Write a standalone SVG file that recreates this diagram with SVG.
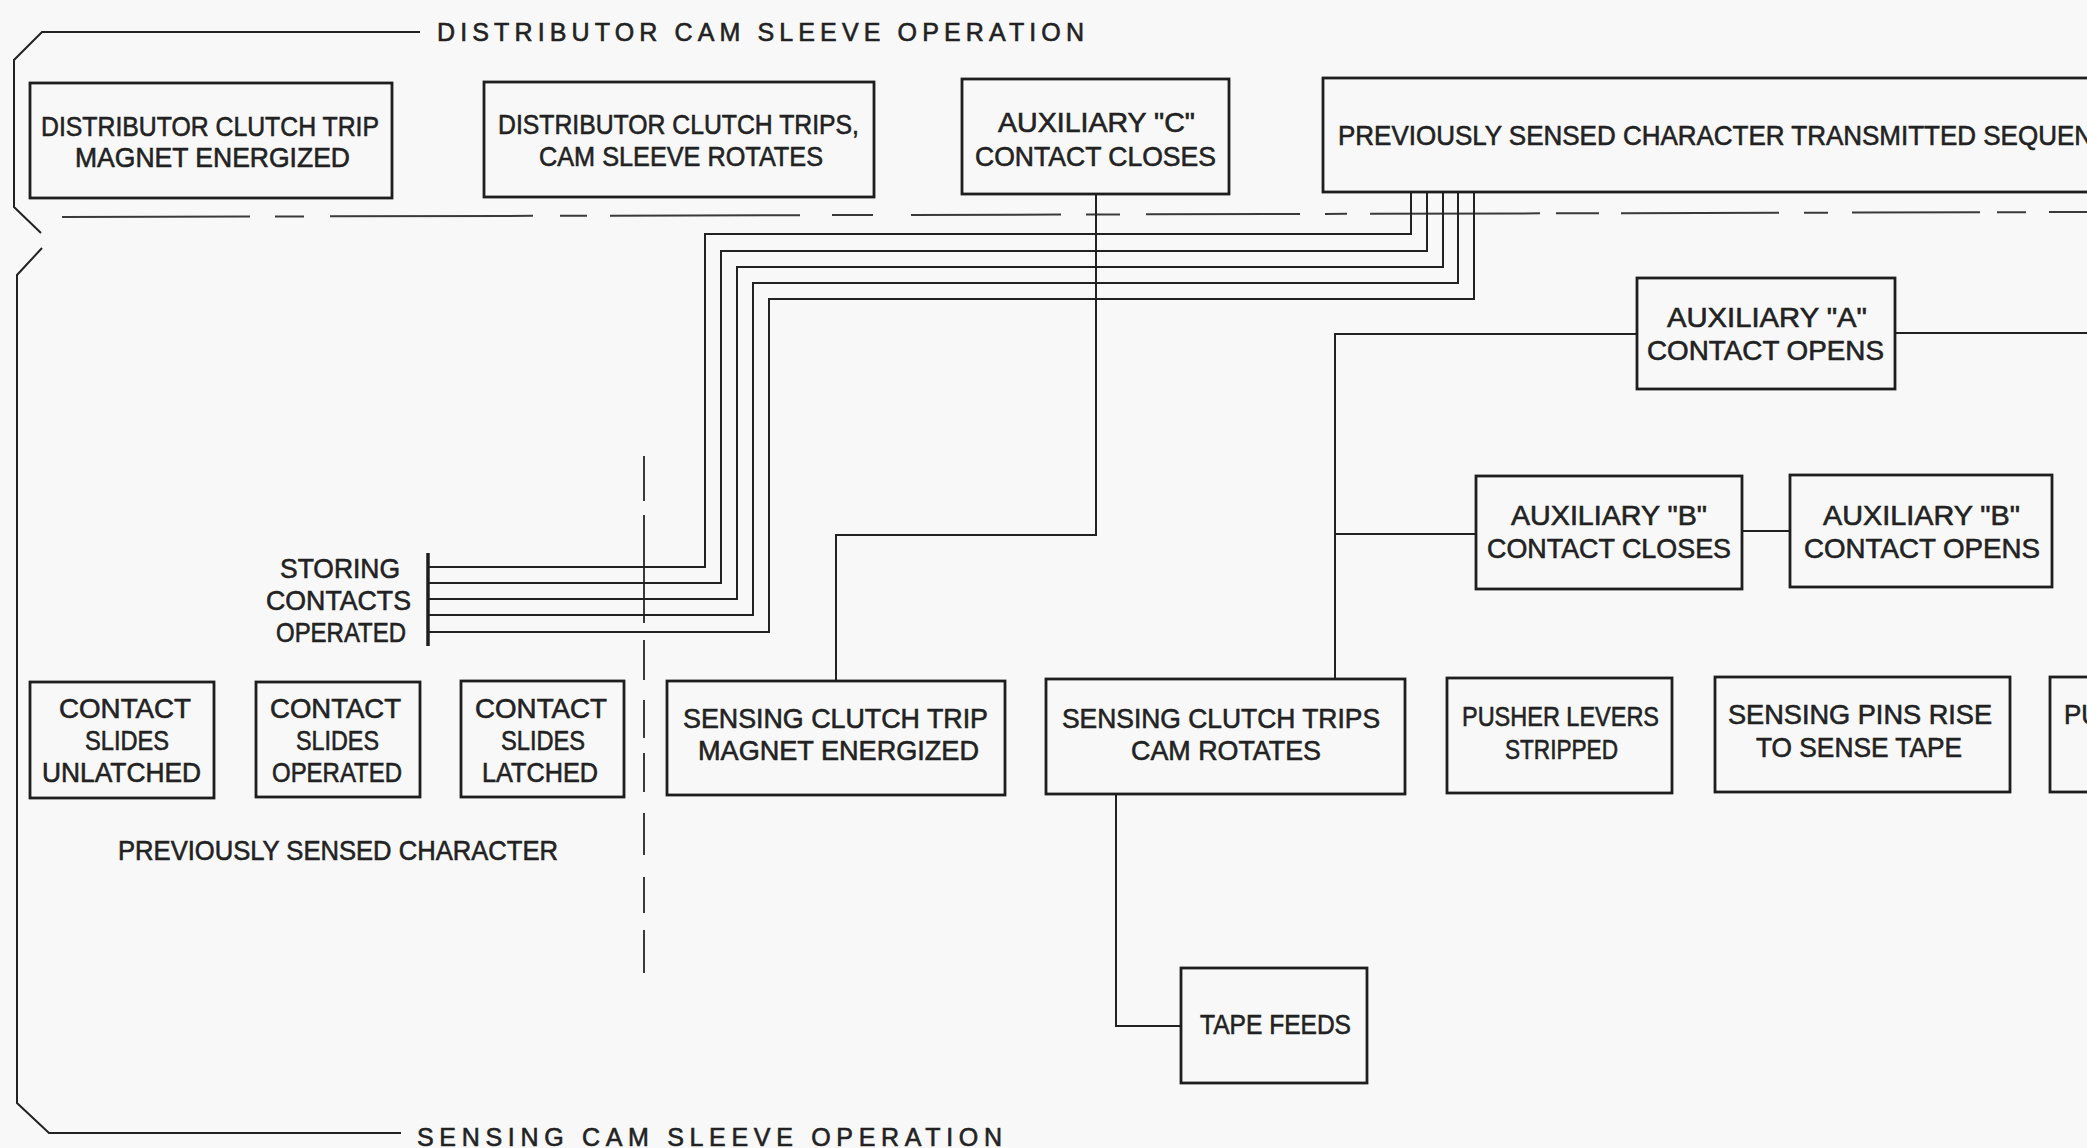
<svg xmlns="http://www.w3.org/2000/svg" width="2087" height="1148" viewBox="0 0 2087 1148">
<style>
.bg{fill:#f8f8f8}
.box{fill:none;stroke:#1e1e1e;stroke-width:2.8}
.ln{fill:none;stroke:#222;stroke-width:2}
.dash{fill:none;stroke:#3a3a3a;stroke-width:2}
.bar{fill:none;stroke:#1e1e1e;stroke-width:3.5}
.t{font-family:"Liberation Sans",Arial,sans-serif;font-size:28px;fill:#222;stroke:#222;stroke-width:0.6}
.h{font-family:"Liberation Sans",Arial,sans-serif;font-size:25px;fill:#222;stroke:#222;stroke-width:0.6}
</style>
<rect class="bg" x="0" y="0" width="2087" height="1148"/>

<g id="brackets">
<path class="ln" d="M420,32 H42 L14,60 V207 L41,233"/>
<path class="ln" d="M42,248 L17,275 V1103 L49,1133 H401"/>
<text class="h" x="437" y="41" textLength="647" lengthAdjust="spacing">DISTRIBUTOR CAM SLEEVE OPERATION</text>
<text class="h" x="417" y="1146" textLength="585" lengthAdjust="spacing">SENSING CAM SLEEVE OPERATION</text>
<g transform="rotate(-0.1415 62 217)">
<path class="dash" d="M62,217H250M275,217H304M330,217H533M560,217H587M610,217H800M832,217H873M911,217H1061M1086,217H1120M1146,217H1300M1325,217H1347M1370,217H1540M1556,217H1599M1621,217H1779M1804,217H1828M1852,217H1980M1997,217H2026M2049,217H2087"/>
</g>
<path class="dash" d="M644,456V501M644,515V623M644,640V680M644,700V738M644,753V792M644,813V855M644,877V913M644,930V973"/>
</g>

<g id="connectors">
<path class="ln" d="M1411,192 V234 H705 V567 H428"/>
<path class="ln" d="M1427,192 V251 H721 V583 H428"/>
<path class="ln" d="M1443,192 V267 H737 V599 H428"/>
<path class="ln" d="M1458,192 V283 H753 V615 H428"/>
<path class="ln" d="M1474,192 V299 H769 V632 H428"/>
<path class="bar" d="M428,553 V646"/>
<path class="ln" d="M1096,194 V535 H836 V681"/>
<path class="ln" d="M1335,679 V334 H1637"/>
<path class="ln" d="M1335,534 H1476"/>
<path class="ln" d="M1895,333 H2087"/>
<path class="ln" d="M1742,531 H1790"/>
<path class="ln" d="M1116,794 V1026 H1181"/>
</g>

<g id="n-dist-trip-magnet">
<rect class="box" x="30" y="83" width="362" height="115"/>
<text class="t" x="41" y="136" textLength="338" lengthAdjust="spacingAndGlyphs">DISTRIBUTOR CLUTCH TRIP</text>
<text class="t" x="75" y="167" textLength="275" lengthAdjust="spacingAndGlyphs">MAGNET ENERGIZED</text>
</g>
<g id="n-dist-clutch-trips">
<rect class="box" x="484" y="82" width="390" height="115"/>
<text class="t" x="498" y="134" textLength="361" lengthAdjust="spacingAndGlyphs">DISTRIBUTOR CLUTCH TRIPS,</text>
<text class="t" x="539" y="166" textLength="284" lengthAdjust="spacingAndGlyphs">CAM SLEEVE ROTATES</text>
</g>
<g id="n-aux-c">
<rect class="box" x="962" y="79" width="267" height="115"/>
<text class="t" x="998" y="132" textLength="197" lengthAdjust="spacingAndGlyphs">AUXILIARY &quot;C&quot;</text>
<text class="t" x="975" y="166" textLength="241" lengthAdjust="spacingAndGlyphs">CONTACT CLOSES</text>
</g>
<g id="n-prev-transmitted">
<rect class="box" x="1323" y="78" width="820" height="114"/>
<text class="t" x="1338" y="145" textLength="755" lengthAdjust="spacingAndGlyphs">PREVIOUSLY SENSED CHARACTER TRANSMITTED SEQUEN</text>
</g>
<g id="n-storing">
<text class="t" x="280" y="578" textLength="120" lengthAdjust="spacingAndGlyphs">STORING</text>
<text class="t" x="266" y="610" textLength="145" lengthAdjust="spacingAndGlyphs">CONTACTS</text>
<text class="t" x="276" y="642" textLength="130" lengthAdjust="spacingAndGlyphs">OPERATED</text>
</g>
<g id="n-unlatched">
<rect class="box" x="30" y="682" width="184" height="116"/>
<text class="t" x="59" y="718" textLength="132" lengthAdjust="spacingAndGlyphs">CONTACT</text>
<text class="t" x="85" y="750" textLength="84" lengthAdjust="spacingAndGlyphs">SLIDES</text>
<text class="t" x="42" y="782" textLength="159" lengthAdjust="spacingAndGlyphs">UNLATCHED</text>
</g>
<g id="n-operated">
<rect class="box" x="256" y="682" width="164" height="115"/>
<text class="t" x="270" y="718" textLength="131" lengthAdjust="spacingAndGlyphs">CONTACT</text>
<text class="t" x="296" y="750" textLength="83" lengthAdjust="spacingAndGlyphs">SLIDES</text>
<text class="t" x="272" y="782" textLength="130" lengthAdjust="spacingAndGlyphs">OPERATED</text>
</g>
<g id="n-latched">
<rect class="box" x="461" y="681" width="163" height="116"/>
<text class="t" x="475" y="718" textLength="132" lengthAdjust="spacingAndGlyphs">CONTACT</text>
<text class="t" x="501" y="750" textLength="84" lengthAdjust="spacingAndGlyphs">SLIDES</text>
<text class="t" x="482" y="782" textLength="116" lengthAdjust="spacingAndGlyphs">LATCHED</text>
</g>
<g id="n-prev-label">
<text class="t" x="118" y="860" textLength="440" lengthAdjust="spacingAndGlyphs">PREVIOUSLY SENSED CHARACTER</text>
</g>
<g id="n-sens-trip-magnet">
<rect class="box" x="667" y="681" width="338" height="114"/>
<text class="t" x="683" y="728" textLength="305" lengthAdjust="spacingAndGlyphs">SENSING CLUTCH TRIP</text>
<text class="t" x="698" y="760" textLength="281" lengthAdjust="spacingAndGlyphs">MAGNET ENERGIZED</text>
</g>
<g id="n-sens-clutch-trips">
<rect class="box" x="1046" y="679" width="359" height="115"/>
<text class="t" x="1062" y="728" textLength="318" lengthAdjust="spacingAndGlyphs">SENSING CLUTCH TRIPS</text>
<text class="t" x="1131" y="760" textLength="190" lengthAdjust="spacingAndGlyphs">CAM ROTATES</text>
</g>
<g id="n-aux-a">
<rect class="box" x="1637" y="278" width="258" height="111"/>
<text class="t" x="1667" y="327" textLength="200" lengthAdjust="spacingAndGlyphs">AUXILIARY &quot;A&quot;</text>
<text class="t" x="1647" y="360" textLength="237" lengthAdjust="spacingAndGlyphs">CONTACT OPENS</text>
</g>
<g id="n-aux-b-closes">
<rect class="box" x="1476" y="476" width="266" height="113"/>
<text class="t" x="1511" y="525" textLength="196" lengthAdjust="spacingAndGlyphs">AUXILIARY &quot;B&quot;</text>
<text class="t" x="1487" y="558" textLength="244" lengthAdjust="spacingAndGlyphs">CONTACT CLOSES</text>
</g>
<g id="n-aux-b-opens">
<rect class="box" x="1790" y="475" width="262" height="112"/>
<text class="t" x="1823" y="525" textLength="197" lengthAdjust="spacingAndGlyphs">AUXILIARY &quot;B&quot;</text>
<text class="t" x="1804" y="558" textLength="236" lengthAdjust="spacingAndGlyphs">CONTACT OPENS</text>
</g>
<g id="n-pusher-stripped">
<rect class="box" x="1447" y="678" width="225" height="115"/>
<text class="t" x="1462" y="726" textLength="197" lengthAdjust="spacingAndGlyphs">PUSHER LEVERS</text>
<text class="t" x="1505" y="759" textLength="113" lengthAdjust="spacingAndGlyphs">STRIPPED</text>
</g>
<g id="n-pins-rise">
<rect class="box" x="1715" y="677" width="295" height="115"/>
<text class="t" x="1728" y="724" textLength="264" lengthAdjust="spacingAndGlyphs">SENSING PINS RISE</text>
<text class="t" x="1756" y="757" textLength="206" lengthAdjust="spacingAndGlyphs">TO SENSE TAPE</text>
</g>
<g id="n-pu">
<rect class="box" x="2050" y="677" width="100" height="115"/>
<text class="t" x="2064" y="724" textLength="36" lengthAdjust="spacingAndGlyphs">PU</text>
</g>
<g id="n-tape-feeds">
<rect class="box" x="1181" y="968" width="186" height="115"/>
<text class="t" x="1200" y="1034" textLength="151" lengthAdjust="spacingAndGlyphs">TAPE FEEDS</text>
</g>
</svg>
